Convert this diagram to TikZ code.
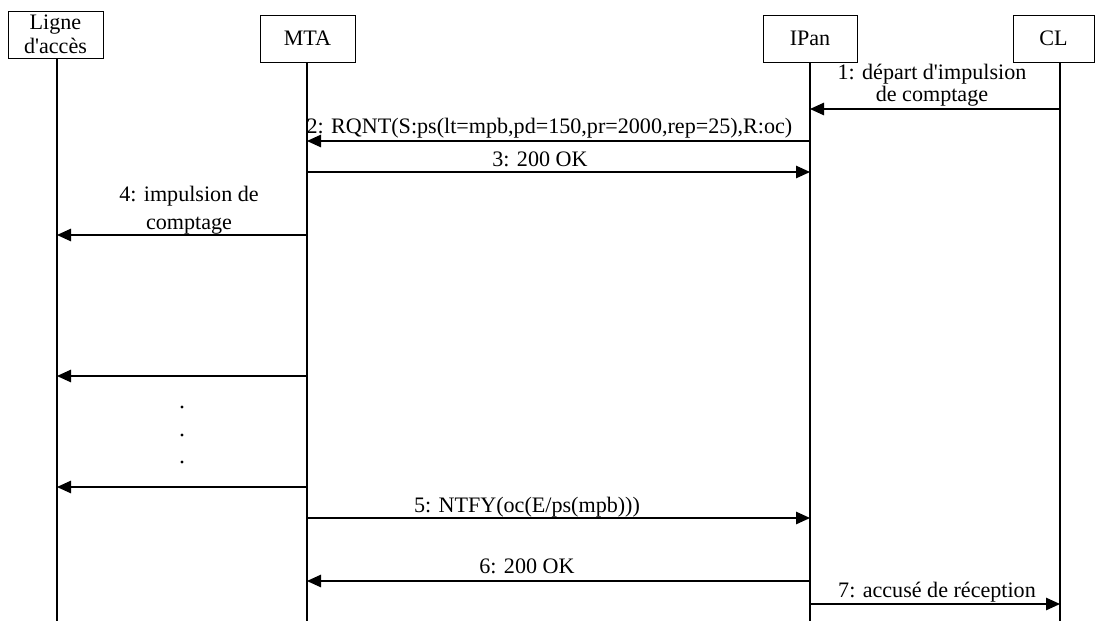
\documentclass[tikz,border=0pt]{standalone}
\usepackage{fontspec}
\setmainfont{Liberation Serif}
\usetikzlibrary{arrows.meta}
\tikzset{
  entite/.style={draw, line width=1pt, inner sep=0pt, align=center},
  vie/.style={line width=1.2pt},
  msg/.style={line width=1.2pt, -{Triangle[length=14pt,width=12.5pt]}},
  lbl/.style={anchor=base, inner sep=0pt, align=center}
}

\begin{document}
\begin{tikzpicture}[x=1pt, y=-1pt, font=\fontsize{22.1}{20}\selectfont]
  \useasboundingbox (0,0) rectangle (1095,621);
  % Entités
  \node[entite, minimum width=95pt, minimum height=47pt,
        font=\fontsize{22.1}{24}\selectfont] (ligne) at (55.5,34.5) {Ligne\\d\textquotesingle accès};
  \node[entite, minimum width=95pt, minimum height=47pt] (mta) at (307.5,38.5) {MTA};
  \node[entite, minimum width=94pt, minimum height=47pt] (ipan) at (810,38.5) {IPan};
  \node[entite, minimum width=81pt, minimum height=47pt] (cl) at (1053.5,38.5) {CL};
  % Lignes de vie
  \foreach \n/\x in {ligne/57, mta/307, ipan/810, cl/1060}
  {
    \coordinate (\n-v) at (\x,621);
    \draw[vie] (\x,0 |- \n.south) -- (\n-v);
  }
  % Messages
  \foreach \a/\b/\y in {cl/ipan/109, ipan/mta/141, mta/ipan/172,
                        mta/ligne/235, mta/ligne/376, mta/ligne/487,
                        mta/ipan/518, ipan/mta/581, ipan/cl/604}
    \draw[msg] (\a-v |- 0,\y) -- (\b-v |- 0,\y);
  % Libellés (ancre base = dernière ligne)
  \node[lbl] (m1) at (932,101) {1: départ d\textquotesingle impulsion\\de comptage};
  \node[lbl] (m2) at (549.5,133) {2: RQNT(S:ps(lt=mpb,pd=150,pr=2000,rep=25),R:oc)};
  \node[lbl] (m3) at (540,166) {3: 200 OK};
  \node[lbl, font=\fontsize{22.1}{28}\selectfont] (m4) at (189,229) {4: impulsion de\\comptage};
  \node[lbl] (m5) at (527,512) {5: NTFY(oc(E/ps(mpb)))};
  \node[lbl] (m6) at (527,573) {6: 200 OK};
  \node[lbl] (m7) at (937,597) {7: accusé de réception};
  % Points de suspension
  \foreach \y in {407,435,462}
    \fill (182,\y) circle (1.7pt);
\end{tikzpicture}
\end{document}
